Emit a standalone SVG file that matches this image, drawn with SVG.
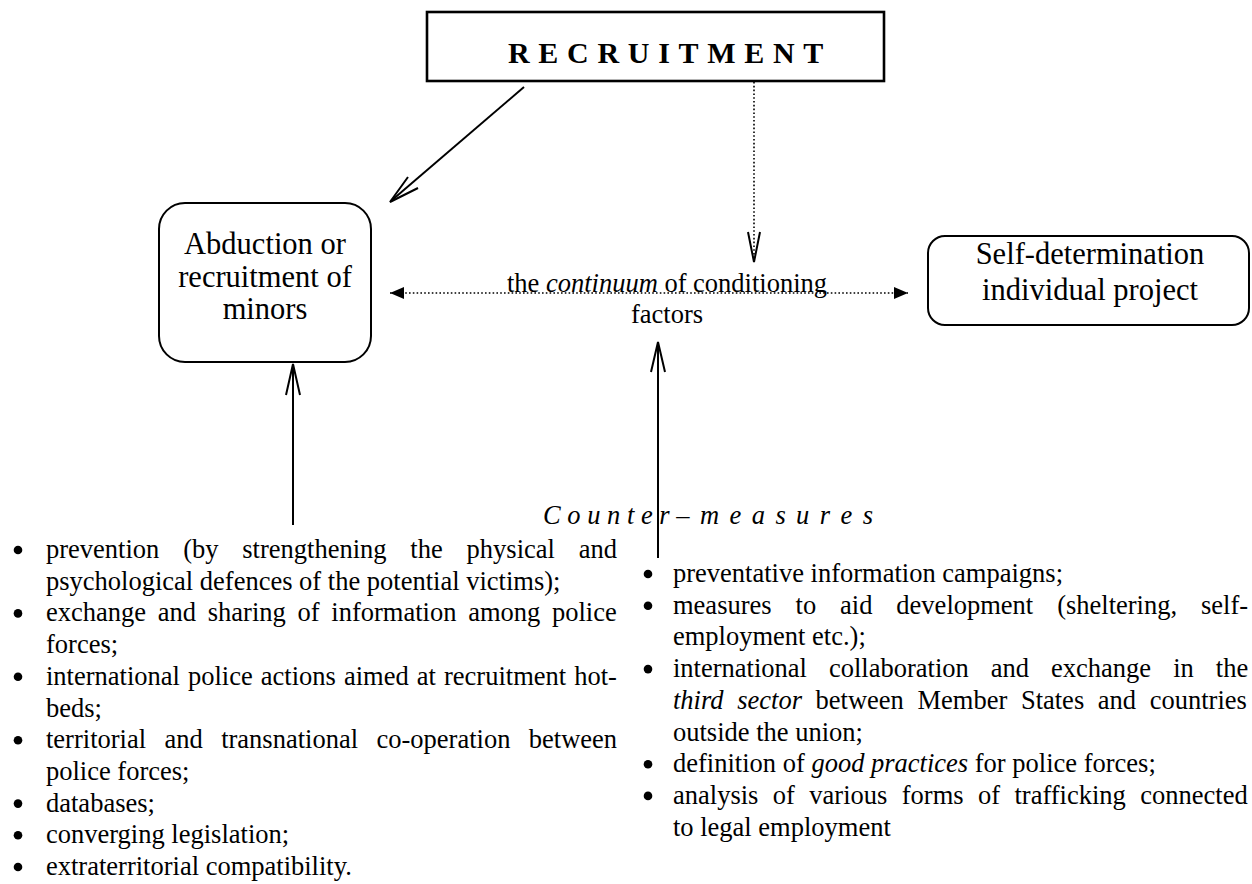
<svg xmlns="http://www.w3.org/2000/svg" width="1252" height="884" viewBox="0 0 1252 884">
<style>
  text { font-family: "Liberation Serif", "Times New Roman", serif; fill: #000; }
  .title { font-size: 30px; font-weight: bold; letter-spacing: 8.7px; }
  .box { fill: #fff; stroke: #000; stroke-width: 2; }
  .tbox { fill: #fff; stroke: #000; stroke-width: 2.6; }
  .nodeText { font-size: 30.5px; text-anchor: middle; }
  .mid { font-size: 26.5px; text-anchor: middle; }
  .body { font-size: 26.5px; }
  .cm { font-size: 26.5px; font-style: italic; }
  .solid { fill: none; stroke: #000; stroke-width: 2; }
  .dot { fill: none; stroke: #000; stroke-width: 1.6; stroke-dasharray: 1.6 2.2; }
  .head { fill: none; stroke: #000; stroke-width: 2; stroke-linejoin: miter; }
  .bul { fill: #000; }
</style>
<defs>
  <marker id="tri" viewBox="0 0 14 12" refX="14" refY="6" markerWidth="14" markerHeight="12" markerUnits="userSpaceOnUse" orient="auto-start-reverse">
    <path d="M0,0 L14,6 L0,12 Z" fill="#000"/>
  </marker>
</defs>

<g id="recruitment">
  <rect class="tbox" x="427" y="12" width="457" height="69"/>
  <text class="title" x="508" y="63">RECRUITMENT</text>
</g>

<g id="abduction">
  <rect class="box" x="159" y="203" width="212" height="159" rx="26" ry="26"/>
  <text class="nodeText" x="265" y="254">Abduction or</text>
  <text class="nodeText" x="265" y="287">recruitment of</text>
  <text class="nodeText" x="265" y="319">minors</text>
</g>

<g id="selfdetermination">
  <rect class="box" x="928" y="236" width="321" height="89" rx="17" ry="17"/>
  <text class="nodeText" x="1090" y="264">Self-determination</text>
  <text class="nodeText" x="1090" y="300">individual project</text>
</g>

<g id="continuum">
  <text class="mid" x="667" y="292">the <tspan font-style="italic">continuum</tspan> of conditioning</text>
  <text class="mid" x="667" y="323">factors</text>
</g>

<g id="connectors">
  <line class="solid" x1="524" y1="87" x2="391" y2="201"/>
  <path class="head" d="M408,177 L390,202 L418,188"/>
  <line class="dot" x1="754" y1="82" x2="754" y2="260"/>
  <path class="head" d="M748,232 L754,262 L760,232"/>
  <line class="dot" x1="390" y1="293" x2="908" y2="293" marker-start="url(#tri)" marker-end="url(#tri)"/>
  <line class="solid" x1="293" y1="525" x2="293" y2="366"/>
  <path class="head" d="M286,395 L293,364 L300,395"/>
  <line class="solid" x1="658" y1="558" x2="658" y2="344"/>
  <path class="head" d="M651,372 L658,342 L665,372"/>
</g>

<g id="countermeasures">
  <text class="cm" x="543" y="524">C o u n t e r –</text>
  <text class="cm" x="700" y="524" textLength="173" lengthAdjust="spacing">m e a s u r e s</text>
</g>

<g id="left-list">
  <circle class="bul" cx="18" cy="550" r="4.3"/>
  <text class="body" x="46" y="558" style="word-spacing:17.2px">prevention (by strengthening the physical and</text>
  <text class="body" x="46" y="589.7">psychological defences of the potential victims);</text>
  <circle class="bul" cx="18" cy="613.4" r="4.3"/>
  <text class="body" x="46" y="621.4" style="word-spacing:5.1px">exchange and sharing of information among police</text>
  <text class="body" x="46" y="653.1">forces;</text>
  <circle class="bul" cx="18" cy="676.8" r="4.3"/>
  <text class="body" x="46" y="684.8" style="word-spacing:1.45px">international police actions aimed at recruitment hot-</text>
  <text class="body" x="46" y="716.5">beds;</text>
  <circle class="bul" cx="18" cy="740.2" r="4.3"/>
  <text class="body" x="46" y="748.2" style="word-spacing:11.8px">territorial and transnational co-operation between</text>
  <text class="body" x="46" y="779.9">police forces;</text>
  <circle class="bul" cx="18" cy="803.6" r="4.3"/>
  <text class="body" x="46" y="811.6">databases;</text>
  <circle class="bul" cx="18" cy="835.3" r="4.3"/>
  <text class="body" x="46" y="843.3">converging legislation;</text>
  <circle class="bul" cx="18" cy="867" r="4.3"/>
  <text class="body" x="46" y="875">extraterritorial compatibility.</text>
</g>

<g id="right-list">
  <circle class="bul" cx="648" cy="574" r="4.3"/>
  <text class="body" x="673" y="582">preventative information campaigns;</text>
  <circle class="bul" cx="648" cy="605.7" r="4.3"/>
  <text class="body" x="673" y="613.7" style="word-spacing:17.3px">measures to aid development (sheltering, self-</text>
  <text class="body" x="673" y="645.4">employment etc.);</text>
  <circle class="bul" cx="648" cy="669.1" r="4.3"/>
  <text class="body" x="673" y="677.1" style="word-spacing:15.4px">international collaboration and exchange in the</text>
  <text class="body" x="673" y="708.8" style="word-spacing:7px"><tspan font-style="italic">third sector</tspan> between Member States and countries</text>
  <text class="body" x="673" y="740.5">outside the union;</text>
  <circle class="bul" cx="648" cy="764.2" r="4.3"/>
  <text class="body" x="673" y="772.2">definition of <tspan font-style="italic">good practices</tspan> for police forces;</text>
  <circle class="bul" cx="648" cy="795.9" r="4.3"/>
  <text class="body" x="673" y="803.9" style="word-spacing:7.8px">analysis of various forms of trafficking connected</text>
  <text class="body" x="673" y="835.6">to legal employment</text>
</g>
</svg>
